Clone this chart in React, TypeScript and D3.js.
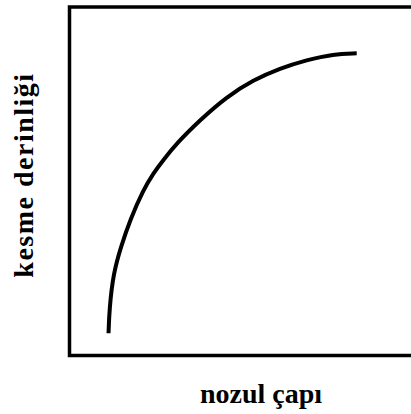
import React from "react";
import * as d3 from "d3";

const xLabel = "nozul çapı";
const yLabel = "kesme derinliği";

// curve (abstract units 0..100)
const curveX = [11.3, 11.52, 12.68, 14.91, 17.51, 21.36, 24.25, 27.15, 31.03, 37.77, 45.5, 53.2, 60.93, 68.65, 76.35, 83.13];
const curveY = [6.37, 13.06, 23.59, 31.22, 38.88, 47.49, 52.28, 56.1, 60.89, 67.58, 74.26, 79.05, 82.41, 84.79, 86.51, 86.71];

const W = 411;
const H = 414;
const left = 69.5;
const right = 415;
const top = 7;
const bottom = 355.5;

export default function App() {
  const x = d3.scaleLinear().domain([0, 100]).range([left, right]);
  const y = d3.scaleLinear().domain([0, 100]).range([bottom, top]);
  const pts: [number, number][] = curveX.map((v, i) => [v, curveY[i]]);
  const line = d3
    .line<[number, number]>()
    .x((d) => x(d[0]))
    .y((d) => y(d[1]))
    .curve(d3.curveBasis);
  const font = "'Liberation Serif', 'Times New Roman', 'DejaVu Serif', serif";
  return (
    <svg
      width={W}
      height={H}
      style={{ position: "absolute", left: 0, top: 0, background: "#fff" }}
    >
      <rect x={0} y={0} width={W} height={H} fill="#fff" />
      <path d={line(pts) || ""} fill="none" stroke="#000" strokeWidth={4} strokeLinecap="butt" />
      <rect
        x={left}
        y={top}
        width={right - left}
        height={bottom - top}
        fill="none"
        stroke="#000"
        strokeWidth={3.5}
      />
      <text
        x={261}
        y={403}
        textAnchor="middle"
        fontFamily={font}
        fontWeight="bold"
        fontSize={28}
        fill="#000"
      >
        {xLabel}
      </text>
      <text
        transform={`translate(33,175) rotate(-90)`}
        textAnchor="middle"
        fontFamily={font}
        fontWeight="bold"
        fontSize={28}
        letterSpacing={1.5}
        fill="#000"
      >
        {yLabel}
      </text>
    </svg>
  );
}
